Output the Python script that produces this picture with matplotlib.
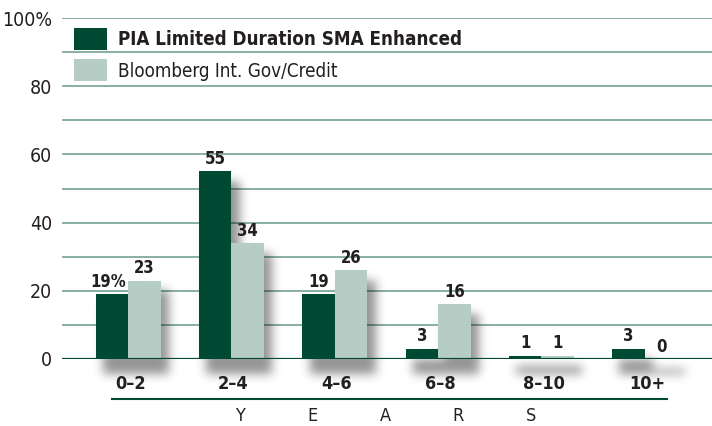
import numpy as np
import matplotlib
matplotlib.use("Agg")
import matplotlib.pyplot as plt

# data
categories = ["0–2", "2–4", "4–6", "6–8", "8–10", "10+"]
pia = [19, 55, 19, 3, 1, 3]
bbg = [23, 34, 26, 16, 1, 0]
pia_labels = ["19%", "55", "19", "3", "1", "3"]
bbg_labels = ["23", "34", "26", "16", "1", "0"]
series_names = ["PIA Limited Duration SMA Enhanced", "Bloomberg Int. Gov/Credit"]
yticks = [0, 20, 40, 60, 80, 100]
ytick_labels = ["0", "20", "40", "60", "80", "100%"]
axis_word = "YEARS"

DARK = "#004a33"
LIGHT = "#b5cdc5"
GRID = "#7fa99b"
TXT = "#231f20"

plt.rcParams["font.family"] = ["DejaVu Sans"]
plt.rcParams["font.stretch"] = "condensed"

fig = plt.figure(figsize=(7.12, 4.26), dpi=100)
ax = fig.add_axes([62 / 712, 1 - 359 / 426, 1 - 62 / 712, 341 / 426])

x = np.arange(len(categories))
w = 0.315
x0, x1, y0, y1 = -0.64, 5.65, -14, 100

# blurred drop shadow, one per bar, nudged right and down
nx, ny = 650, 390
gx = np.linspace(x0, x1, nx)
gy = np.linspace(y0, y1, ny)
X, Y = np.meshgrid(gx, gy)
mask = np.zeros_like(X)
for i in range(len(categories)):
    for cx, h in ((x[i] - w / 2, pia[i]), (x[i] + w / 2, bbg[i])):
        mask[(X > cx - w / 2 + 0.07) & (X < cx + w / 2 + 0.08) & (Y > -4.5) & (Y < h - 3)] = 1.0

def blur(a, sigma, axis):
    r = int(3 * sigma)
    k = np.exp(-0.5 * (np.arange(-r, r + 1) / sigma) ** 2)
    k /= k.sum()
    return np.apply_along_axis(lambda v: np.convolve(v, k, mode="same"), axis, a)

mask = blur(blur(mask, 5, 1), 5, 0)
rgba = np.zeros((ny, nx, 4))
rgba[..., 3] = mask * 0.42
ax.imshow(rgba, extent=[x0, x1, y0, y1], origin="lower", aspect="auto",
          zorder=1, clip_on=False, interpolation="bilinear")

# gridlines
for g in range(10, 101, 10):
    ax.axhline(g, color=GRID, lw=1.3, zorder=0.5)
ax.axhline(0, color=DARK, lw=2.3, zorder=4)

ax.bar(x - w / 2, pia, width=w, color=DARK, zorder=3, label=series_names[0])
ax.bar(x + w / 2, bbg, width=w, color=LIGHT, zorder=3, label=series_names[1])

for i in range(len(categories)):
    ax.text(x[i] - w / 2 - 0.04 * (i == 0), pia[i] + 1, pia_labels[i], ha="center", va="bottom",
            fontsize=12, fontweight="bold", color=TXT, zorder=5)
    ax.text(x[i] + w / 2, bbg[i] + 1, bbg_labels[i], ha="center", va="bottom",
            fontsize=12, fontweight="bold", color=TXT, zorder=5)
    ax.text(x[i] + 0.02, -7.2, categories[i], ha="center", va="center",
            fontsize=13, fontweight="bold", color=TXT, clip_on=False)

ax.plot([-0.155, 5.21], [-11.7, -11.7], color=DARK, lw=1.5, clip_on=False)
for j, ch in enumerate(axis_word):
    ax.text(1.08 + 0.705 * j, -16.6, ch, ha="center", va="center", fontsize=13, color=TXT, clip_on=False)

ax.set_xlim(x0, x1)
ax.set_ylim(0, 100)
ax.set_yticks(yticks)
ax.set_yticklabels(ytick_labels, fontsize=14, color=TXT)
ax.tick_params(axis="y", length=0, pad=7)
ax.set_xticks([])
for s in ax.spines.values():
    s.set_visible(False)

leg = ax.legend(loc="upper left", bbox_to_anchor=(0.007, 0.994), frameon=False, fontsize=13.5,
                handlelength=1.75, handleheight=1.45, handletextpad=0.6, labelspacing=0.5,
                borderaxespad=0)
for t in leg.get_texts():
    t.set_color(TXT)
leg.get_texts()[0].set_fontweight("bold")

fig.savefig("out.png", dpi=100)
